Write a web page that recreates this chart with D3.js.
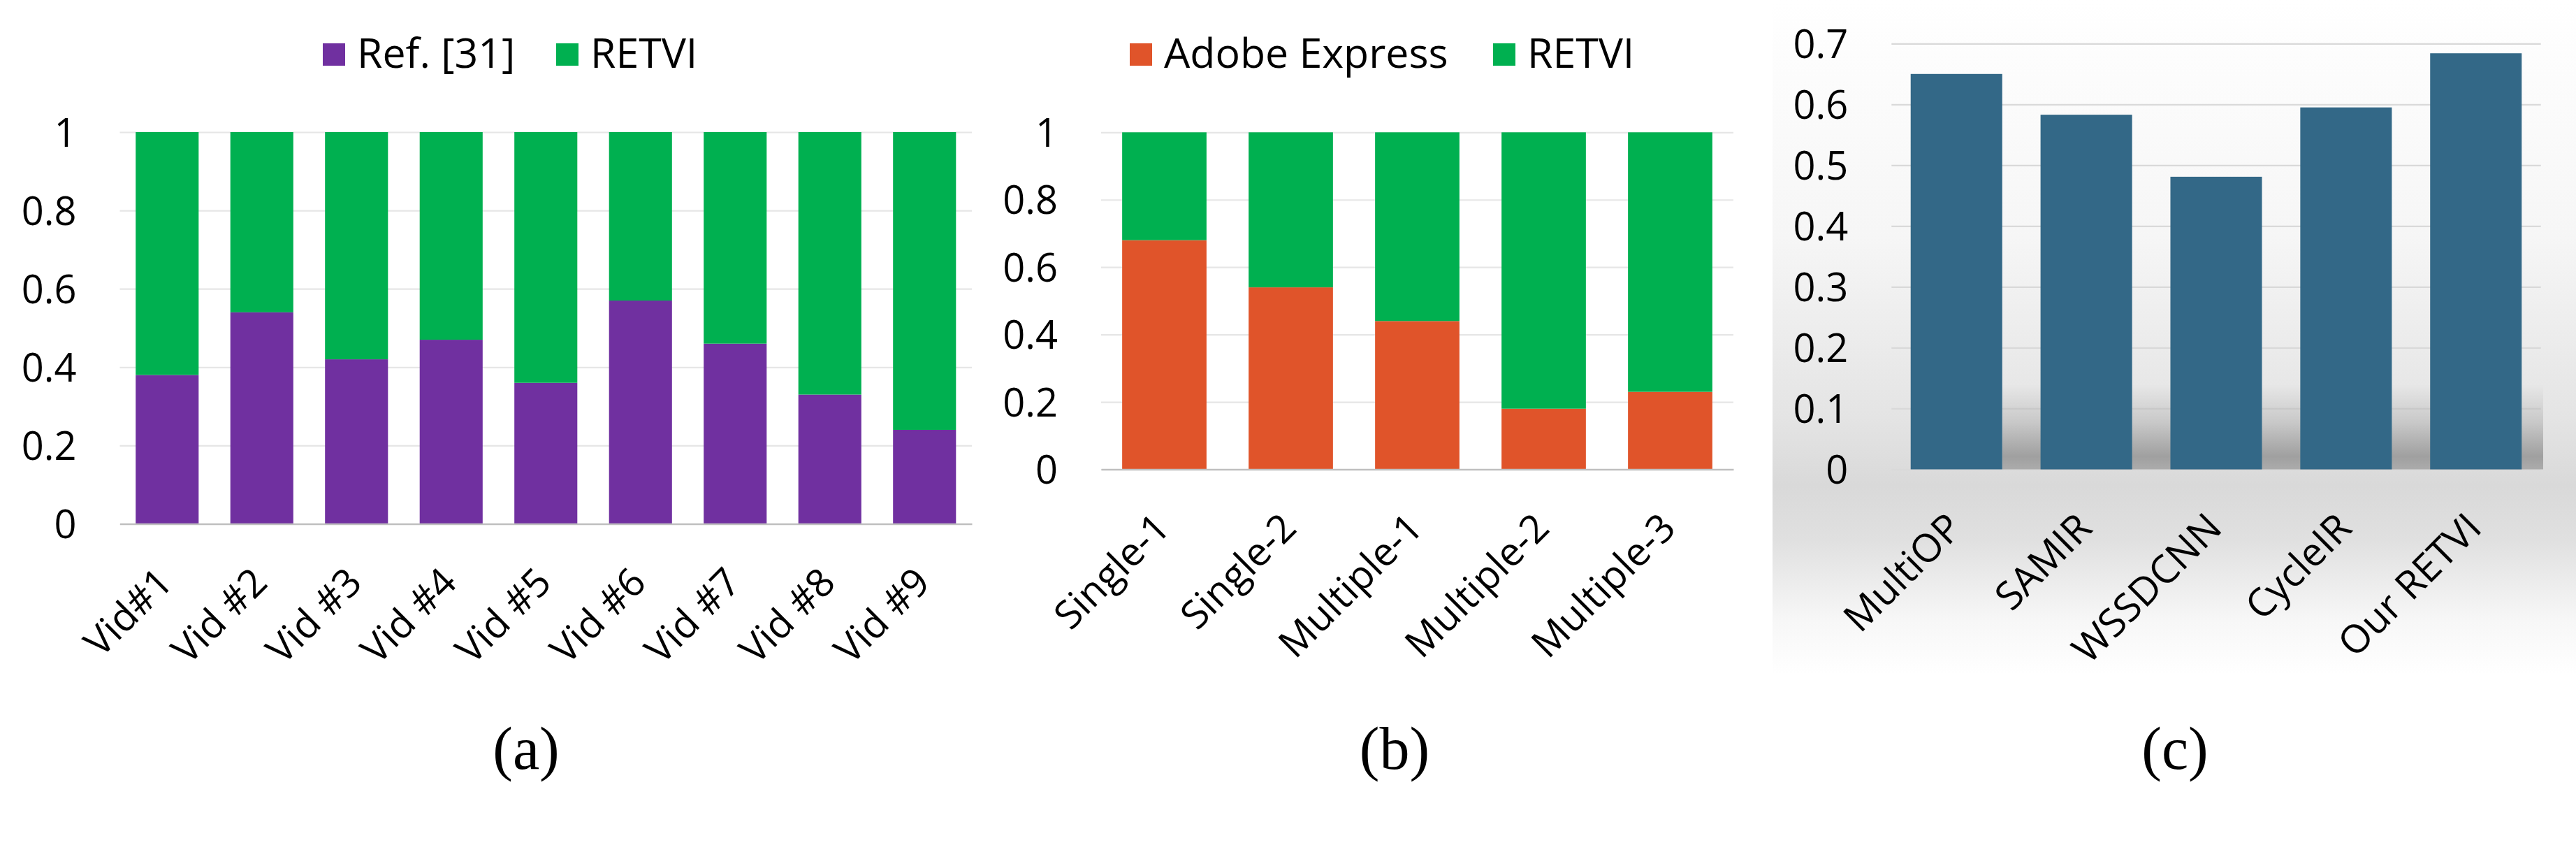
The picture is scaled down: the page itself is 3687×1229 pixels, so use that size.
<!DOCTYPE html>
<html>
<head>
<meta charset="utf-8">
<script src="https://cdn.jsdelivr.net/npm/d3@7"></script>
<style>
  html, body { margin: 0; padding: 0; background: #fff; }
  svg { display: block; }
</style>
</head>
<body>
<div id="chart"></div>
<script>
// (a) Ref. [31] vs RETVI per video
const vidCats  = ["Vid#1", "Vid #2", "Vid #3", "Vid #4", "Vid #5", "Vid #6", "Vid #7", "Vid #8", "Vid #9"];
const vidRef   = [0.38, 0.54, 0.42, 0.47, 0.36, 0.57, 0.46, 0.33, 0.24];
const vidRetvi = [0.62, 0.46, 0.58, 0.53, 0.64, 0.43, 0.54, 0.67, 0.76];

// (b) Adobe Express vs RETVI per scene
const sceneCats  = ["Single-1", "Single-2", "Multiple-1", "Multiple-2", "Multiple-3"];
const sceneAdobe = [0.68, 0.54, 0.44, 0.18, 0.23];
const sceneRetvi = [0.32, 0.46, 0.56, 0.82, 0.77];

// (c) score per method
const methodCats  = ["MultiOP", "SAMIR", "WSSDCNN", "CycleIR", "Our RETVI"];
const methodScore = [0.65, 0.583, 0.481, 0.595, 0.684];

const ticksAB = [0, 0.2, 0.4, 0.6, 0.8, 1];
const ticksC  = [0, 0.1, 0.2, 0.3, 0.4, 0.5, 0.6, 0.7];

const W = 3687, H = 1229;
const SANS = "'Open Sans', 'Noto Sans', sans-serif";
const SERIF = "'Liberation Serif', 'DejaVu Serif', serif";
const PURPLE = "#7030A0", GREEN = "#00B050", ORANGE = "#E0542A", TEAL = "#336887";
const fmtTick = d3.format("~g");

const svg = d3.select("#chart").append("svg")
  .attr("width", W).attr("height", H)
  .attr("viewBox", `0 0 ${W} ${H}`);

const defs = svg.append("defs");

// panel (c) chart-area gradient
const bg = defs.append("linearGradient").attr("id", "bgC")
  .attr("x1", 0).attr("y1", 0).attr("x2", 0).attr("y2", 1);
[[0, "#ffffff"], [0.35, "#f6f6f6"], [0.62, "#e4e4e4"], [0.72, "#d9d9d9"], [0.8, "#e0e0e0"], [0.92, "#f7f7f7"], [1, "#ffffff"]]
  .forEach(([o, c]) => bg.append("stop").attr("offset", o).attr("stop-color", c));

const sh = defs.append("linearGradient").attr("id", "shadowC")
  .attr("x1", 0).attr("y1", 0).attr("x2", 0).attr("y2", 1);
[[0, "#000", 0], [0.45, "#000", 0.12], [0.85, "#000", 0.28], [1, "#000", 0.22]]
  .forEach(([o, c, a]) => sh.append("stop").attr("offset", o).attr("stop-color", c).attr("stop-opacity", a));

function drawPanel(p) {
  const g = svg.append("g");

  // Excel-style bands: outer gap is half the inner gap
  const x = d3.scaleBand().domain(p.cats).range(p.xr)
    .paddingInner(p.pad).paddingOuter(p.pad / 2);
  const y = d3.scaleLinear().domain([0, d3.max(p.ticks)]).range(p.yr);

  if (p.background) p.background(g, x, y);

  // gridlines
  g.append("g")
    .attr("transform", `translate(${p.xr[0]},0)`)
    .call(d3.axisLeft(y).tickValues(p.ticks).tickSize(-(p.xr[1] - p.xr[0])).tickFormat(""))
    .call(a => a.select(".domain").remove())
    .selectAll("line").attr("stroke", p.gridColor).attr("stroke-width", 2.2);

  if (p.shadow) p.shadow(g, x, y);

  // bars (stacked)
  const rows = p.cats.map((c, i) => {
    const r = { cat: c };
    p.series.forEach(s => { r[s.name] = s.values[i]; });
    return r;
  });
  const stack = d3.stack().keys(p.series.map(s => s.name))(rows);
  g.append("g").selectAll("g")
    .data(stack).join("g")
    .attr("fill", (d, i) => p.series[i].color)
    .selectAll("rect")
    .data(d => d).join("rect")
    .attr("x", d => x(d.data.cat))
    .attr("y", d => y(d[1]))
    .attr("width", x.bandwidth())
    .attr("height", d => y(d[0]) - y(d[1]));

  // y axis labels
  g.append("g")
    .attr("transform", `translate(${p.xr[0]},0)`)
    .call(d3.axisLeft(y).tickValues(p.ticks).tickSize(0).tickPadding(62).tickFormat(fmtTick))
    .call(a => a.select(".domain").remove())
    .selectAll("text")
    .attr("dy", "0.36em")
    .attr("font-family", SANS).attr("font-size", 56).attr("fill", "#000");

  // x axis + rotated labels
  const xa = g.append("g")
    .attr("transform", `translate(0,${y(0)})`)
    .call(d3.axisBottom(x).tickSize(0).tickSizeOuter(0));
  xa.select(".domain")
    .attr("stroke", p.axisColor || "none").attr("stroke-width", 2.6);
  xa.selectAll("text")
    .attr("x", 0).attr("y", 0).attr("dy", null)
    .attr("text-anchor", "end")
    .attr("transform", "translate(11,87) rotate(-45)")
    .attr("font-family", SANS).attr("font-size", 56).attr("fill", "#000");

  // legend
  if (p.legend) {
    const lg = g.append("g");
    p.series.forEach((s, i) => {
      const lx = p.legend[i];
      lg.append("rect").attr("x", lx).attr("y", 62).attr("width", 32).attr("height", 32).attr("fill", s.color);
      lg.append("text").attr("x", lx + 49).attr("y", 97)
        .attr("font-family", SANS).attr("font-size", 59).attr("fill", "#000")
        .text(s.name);
    });
  }

  // caption
  g.append("text")
    .attr("x", p.capX).attr("y", 1100)
    .attr("text-anchor", "middle")
    .attr("font-family", SERIF).attr("font-size", 86).attr("fill", "#000")
    .text(p.caption);
}

drawPanel({
  cats: vidCats,
  series: [
    { name: "Ref. [31]", values: vidRef, color: PURPLE },
    { name: "RETVI", values: vidRetvi, color: GREEN }
  ],
  xr: [171.5, 1391], yr: [749.5, 189], pad: 0.335,
  ticks: ticksAB, gridColor: "#e6e6e6", axisColor: "#bfbfbf",
  legend: [462, 796], caption: "(a)", capX: 753
});

drawPanel({
  cats: sceneCats,
  series: [
    { name: "Adobe Express", values: sceneAdobe, color: ORANGE },
    { name: "RETVI", values: sceneRetvi, color: GREEN }
  ],
  xr: [1576, 2481], yr: [671.5, 189.3], pad: 0.333,
  ticks: ticksAB, gridColor: "#e6e6e6", axisColor: "#bfbfbf",
  legend: [1617, 2137], caption: "(b)", capX: 1996
});

drawPanel({
  cats: methodCats,
  series: [{ name: "score", values: methodScore, color: TEAL }],
  xr: [2707.3, 3636.7], yr: [671.5, 62.3], pad: 0.295,
  ticks: ticksC, gridColor: "#d9d9d9",
  caption: "(c)", capX: 3113,
  background: (g) => {
    g.append("rect").attr("x", 2537).attr("y", 0).attr("width", W - 2537).attr("height", 965)
      .attr("fill", "url(#bgC)");
  },
  shadow: (g, x, y) => {
    const x0 = x(methodCats[0]) + x.bandwidth();
    g.append("rect")
      .attr("x", x0).attr("y", y(0.14))
      .attr("width", 3640 - x0).attr("height", y(0) - y(0.14))
      .attr("fill", "url(#shadowC)");
  }
});
</script>
</body>
</html>
